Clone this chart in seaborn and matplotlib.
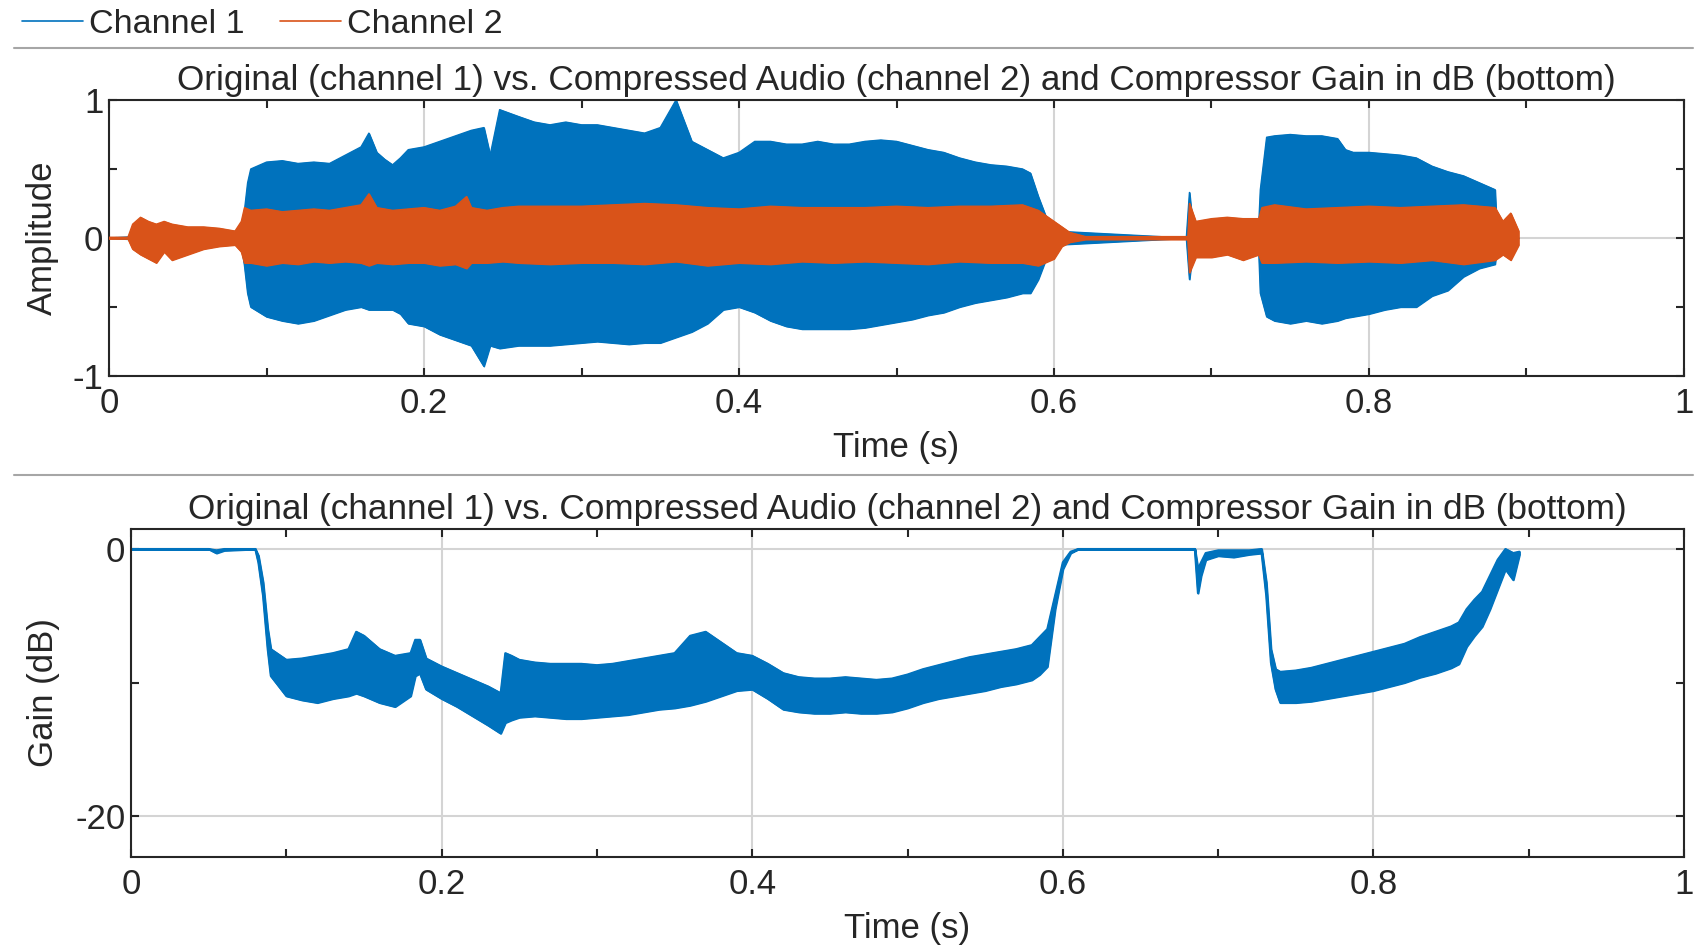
import numpy as np
import pandas as pd
import seaborn as sns
import matplotlib.pyplot as plt
from matplotlib.lines import Line2D

# channel 1 (original) envelope
ch1_t = [0.0, 0.084, 0.086, 0.088, 0.09, 0.10, 0.11, 0.12, 0.13, 0.14, 0.15, 0.16, 0.165, 0.17, 0.175,
         0.18, 0.185, 0.19, 0.20, 0.21, 0.22, 0.23, 0.238, 0.242, 0.248, 0.26, 0.27, 0.28, 0.29, 0.30,
         0.31, 0.32, 0.33, 0.34, 0.35, 0.355, 0.36, 0.365, 0.37, 0.38, 0.39, 0.40, 0.41, 0.42, 0.43,
         0.44, 0.45, 0.46, 0.47, 0.48, 0.49, 0.50, 0.51, 0.52, 0.53, 0.54, 0.55, 0.56, 0.57, 0.58,
         0.585, 0.59, 0.595, 0.60, 0.684, 0.686, 0.688, 0.73, 0.731, 0.735, 0.74, 0.75, 0.76, 0.77,
         0.78, 0.785, 0.79, 0.80, 0.81, 0.82, 0.83, 0.84, 0.85, 0.86, 0.87, 0.88, 0.881, 0.895]
ch1_hi = [0.0, 0.05, 0.20, 0.40, 0.50, 0.55, 0.56, 0.54, 0.55, 0.54, 0.60, 0.66, 0.76, 0.62, 0.57,
          0.53, 0.58, 0.64, 0.66, 0.70, 0.74, 0.78, 0.80, 0.60, 0.93, 0.88, 0.84, 0.82, 0.84, 0.82,
          0.82, 0.80, 0.78, 0.76, 0.80, 0.90, 1.00, 0.85, 0.70, 0.64, 0.58, 0.62, 0.70, 0.70, 0.68,
          0.68, 0.70, 0.68, 0.68, 0.70, 0.71, 0.70, 0.67, 0.64, 0.62, 0.58, 0.55, 0.53, 0.52, 0.50,
          0.47, 0.30, 0.15, 0.05, 0.0, 0.33, 0.10, 0.10, 0.35, 0.73, 0.74, 0.75, 0.74, 0.74,
          0.72, 0.64, 0.62, 0.62, 0.61, 0.60, 0.58, 0.52, 0.48, 0.45, 0.40, 0.35, 0.10, 0.0]
ch1_lo = [0.0, -0.05, -0.20, -0.40, -0.50, -0.57, -0.60, -0.62, -0.60, -0.56, -0.52, -0.50, -0.52, -0.52, -0.52,
          -0.52, -0.55, -0.62, -0.64, -0.70, -0.74, -0.78, -0.93, -0.78, -0.80, -0.78, -0.78, -0.78, -0.77, -0.76,
          -0.75, -0.76, -0.77, -0.76, -0.76, -0.74, -0.72, -0.70, -0.68, -0.62, -0.52, -0.50, -0.54, -0.60, -0.64,
          -0.66, -0.66, -0.66, -0.66, -0.65, -0.63, -0.61, -0.59, -0.56, -0.54, -0.50, -0.47, -0.45, -0.43, -0.40,
          -0.40, -0.30, -0.15, -0.05, 0.0, -0.30, -0.10, -0.10, -0.40, -0.57, -0.60, -0.62, -0.60, -0.62,
          -0.60, -0.58, -0.57, -0.55, -0.52, -0.50, -0.50, -0.42, -0.38, -0.28, -0.22, -0.19, -0.10, 0.0]

# channel 2 (compressed) envelope
ch2_t = [0.0, 0.012, 0.015, 0.02, 0.025, 0.03, 0.035, 0.04, 0.05, 0.06, 0.07, 0.08, 0.084, 0.086,
         0.09, 0.10, 0.11, 0.12, 0.13, 0.14, 0.15, 0.16, 0.165, 0.17, 0.18, 0.19, 0.20, 0.21, 0.22,
         0.227, 0.23, 0.24, 0.25, 0.26, 0.28, 0.30, 0.32, 0.34, 0.36, 0.38, 0.40, 0.42, 0.44, 0.46,
         0.48, 0.50, 0.52, 0.54, 0.56, 0.58, 0.59, 0.60, 0.605, 0.61, 0.62, 0.685, 0.686, 0.69, 0.70,
         0.71, 0.72, 0.73, 0.732, 0.74, 0.76, 0.78, 0.80, 0.82, 0.84, 0.86, 0.88, 0.885, 0.89, 0.895]
ch2_hi = [0.005, 0.005, 0.10, 0.15, 0.12, 0.10, 0.12, 0.10, 0.08, 0.08, 0.07, 0.05, 0.12, 0.22,
          0.20, 0.21, 0.19, 0.20, 0.21, 0.20, 0.22, 0.24, 0.32, 0.22, 0.20, 0.21, 0.22, 0.20, 0.23,
          0.30, 0.22, 0.20, 0.22, 0.23, 0.23, 0.23, 0.24, 0.25, 0.24, 0.22, 0.21, 0.23, 0.22, 0.22,
          0.22, 0.23, 0.22, 0.23, 0.23, 0.24, 0.20, 0.12, 0.08, 0.04, 0.01, 0.01, 0.25, 0.12, 0.14,
          0.15, 0.14, 0.14, 0.22, 0.24, 0.21, 0.22, 0.23, 0.22, 0.23, 0.24, 0.22, 0.12, 0.18, 0.05]
ch2_lo = [-0.005, -0.005, -0.08, -0.12, -0.15, -0.18, -0.10, -0.16, -0.12, -0.08, -0.06, -0.05, -0.10, -0.18,
          -0.18, -0.20, -0.18, -0.19, -0.17, -0.18, -0.17, -0.18, -0.20, -0.18, -0.19, -0.18, -0.18, -0.20, -0.19,
          -0.22, -0.18, -0.18, -0.17, -0.18, -0.19, -0.18, -0.18, -0.19, -0.17, -0.20, -0.18, -0.19, -0.17, -0.18,
          -0.17, -0.18, -0.19, -0.17, -0.18, -0.18, -0.20, -0.15, -0.06, -0.03, -0.01, -0.01, -0.25, -0.14, -0.14,
          -0.12, -0.16, -0.12, -0.18, -0.18, -0.17, -0.18, -0.17, -0.18, -0.16, -0.19, -0.16, -0.12, -0.16, -0.05]

# compressor gain in dB (band between local max and min)
gain_t = [0.0, 0.05, 0.055, 0.06, 0.08, 0.082, 0.085, 0.088, 0.09, 0.10, 0.11, 0.12, 0.13, 0.14,
          0.145, 0.15, 0.16, 0.17, 0.18, 0.183, 0.186, 0.19, 0.20, 0.21, 0.22, 0.23, 0.238, 0.241,
          0.245, 0.25, 0.26, 0.27, 0.28, 0.29, 0.30, 0.31, 0.32, 0.33, 0.34, 0.35, 0.36, 0.37, 0.38,
          0.39, 0.40, 0.41, 0.42, 0.43, 0.44, 0.45, 0.46, 0.47, 0.48, 0.49, 0.50, 0.51, 0.52, 0.53,
          0.54, 0.55, 0.56, 0.57, 0.58, 0.585, 0.59, 0.595, 0.60, 0.605, 0.61, 0.685, 0.687, 0.689,
          0.692, 0.70, 0.71, 0.72, 0.728, 0.731, 0.734, 0.737, 0.74, 0.75, 0.76, 0.77, 0.78, 0.79,
          0.80, 0.81, 0.82, 0.83, 0.84, 0.85, 0.855, 0.86, 0.865, 0.87, 0.875, 0.88, 0.885, 0.89, 0.894]
gain_hi = [0, 0, -0.1, 0, 0, -0.5, -2.5, -6.0, -7.5, -8.3, -8.2, -8.0, -7.8, -7.5,
           -6.2, -6.5, -7.5, -8.0, -7.8, -6.8, -6.8, -8.2, -8.8, -9.3, -9.8, -10.3, -10.8, -7.8,
           -8.0, -8.3, -8.5, -8.6, -8.6, -8.6, -8.7, -8.6, -8.4, -8.2, -8.0, -7.8, -6.5, -6.2, -7.0,
           -7.8, -8.0, -8.6, -9.3, -9.6, -9.7, -9.7, -9.6, -9.7, -9.8, -9.7, -9.4, -9.0, -8.7, -8.4,
           -8.1, -7.9, -7.7, -7.5, -7.2, -6.6, -6.0, -3.5, -1.0, -0.2, 0, 0, -1.5, -1.0,
           -0.3, -0.1, -0.1, -0.1, 0, -2.5, -7.5, -9.0, -9.2, -9.1, -8.9, -8.6, -8.3, -8.0,
           -7.7, -7.4, -7.1, -6.6, -6.2, -5.8, -5.5, -4.5, -3.8, -3.2, -2.0, -0.8, 0, -0.3, -0.2]
gain_lo = [0, 0, -0.3, -0.1, 0, -1.0, -3.5, -7.5, -9.5, -11.0, -11.3, -11.5, -11.2, -11.0,
           -10.8, -11.0, -11.5, -11.8, -11.0, -9.5, -9.3, -10.5, -11.2, -11.8, -12.5, -13.2, -13.8, -13.0,
           -12.8, -12.6, -12.5, -12.6, -12.7, -12.7, -12.6, -12.5, -12.4, -12.2, -12.0, -11.9, -11.7, -11.4, -11.0,
           -10.6, -10.5, -11.2, -12.0, -12.2, -12.3, -12.3, -12.2, -12.3, -12.3, -12.2, -11.9, -11.5, -11.2, -11.0,
           -10.8, -10.6, -10.3, -10.1, -9.8, -9.4, -8.8, -4.5, -1.5, -0.3, 0, 0, -3.3, -2.0,
           -0.8, -0.5, -0.6, -0.4, -0.3, -3.5, -8.5, -10.5, -11.5, -11.5, -11.4, -11.2, -11.0, -10.8,
           -10.6, -10.3, -10.0, -9.6, -9.3, -8.9, -8.6, -7.3, -6.5, -5.8, -4.5, -3.0, -1.5, -2.3, -0.4]

title_txt = 'Original (channel 1) vs. Compressed Audio (channel 2) and Compressor Gain in dB (bottom)'
blue = '#0072BD'
orange = '#D95319'

sns.set_style('ticks')
plt.rcParams['font.family'] = ['Liberation Sans', 'DejaVu Sans']
plt.rcParams['font.size'] = 25

fig = plt.figure(figsize=(17.06, 9.47), dpi=100)
ax1 = fig.add_axes([0.0639, 0.603, 0.9232, 0.2914])
ax2 = fig.add_axes([0.0768, 0.095, 0.9103, 0.3464])

# top: waveforms
ax1.fill_between(ch1_t, ch1_hi, ch1_lo, color=blue, lw=1, zorder=2)
ax1.fill_between(ch2_t, ch2_hi, ch2_lo, color=orange, lw=1, zorder=3)
sns.lineplot(x=ch1_t, y=ch1_hi, ax=ax1, color=blue, lw=1, zorder=2)
sns.lineplot(x=ch1_t, y=ch1_lo, ax=ax1, color=blue, lw=1, zorder=2)
sns.lineplot(x=ch2_t, y=ch2_hi, ax=ax1, color=orange, lw=1, zorder=3)
sns.lineplot(x=ch2_t, y=ch2_lo, ax=ax1, color=orange, lw=1, zorder=3)
ax1.set_xlim(0, 1)
ax1.set_ylim(-1, 1)
ax1.set_yticks([-1, 0, 1])
ax1.set_yticks([-0.5, 0.5], minor=True)
ax1.set_yticklabels(['-1', '0', '1'])
ax1.set_ylabel('Amplitude')
ax1.yaxis.set_label_coords(-0.032, 0.5)

# bottom: gain
ax2.fill_between(gain_t, gain_hi, gain_lo, color=blue, lw=1.5, zorder=2)
sns.lineplot(x=gain_t, y=gain_hi, ax=ax2, color=blue, lw=1.5, zorder=2)
sns.lineplot(x=gain_t, y=gain_lo, ax=ax2, color=blue, lw=1.5, zorder=2)
ax2.set_xlim(0, 1)
ax2.set_ylim(-23.07, 1.5)
ax2.set_yticks([-20, 0])
ax2.set_yticks([-10], minor=True)
ax2.set_yticklabels(['-20', '0'])
ax2.set_ylabel('Gain (dB)')
ax2.yaxis.set_label_coords(-0.046, 0.5)

for ax, ylab in [(ax1, -0.199), (ax2, -0.168)]:
    ax.set_xticks([0, 0.2, 0.4, 0.6, 0.8, 1])
    ax.set_xticks([0.1, 0.3, 0.5, 0.7, 0.9], minor=True)
    ax.set_xticklabels(['0', '0.2', '0.4', '0.6', '0.8', '1'])
    ax.set_xlabel('Time (s)')
    ax.xaxis.set_label_coords(0.5, ylab)
    ax.set_title(title_txt, fontsize=25.3, pad=7)
    ax.grid(True, which='major', color='#d4d4d4', lw=1.5)
    ax.set_axisbelow(True)
    ax.tick_params(which='both', direction='in', top=True, right=True, length=6, width=1.5,
                   color='#262626', labelsize=25)
    ax.tick_params(axis='x', pad=8)
    ax.tick_params(axis='y', pad=4)
    for sp in ax.spines.values():
        sp.set_visible(True)
        sp.set_color('#262626')
        sp.set_linewidth(1.5)

# legend strip with separators
handles = [Line2D([], [], color=blue, lw=1.2), Line2D([], [], color=orange, lw=1.2)]
fig.legend(handles, ['Channel 1', 'Channel 2'], loc='upper left', bbox_to_anchor=(0.011, 0.9937),
           ncol=2, frameon=False, fontsize=24.5, handlelength=1.8, handletextpad=0.17,
           columnspacing=1.04, borderpad=0.1, borderaxespad=0)
for yy in [48, 475]:
    fig.add_artist(Line2D([14 / 1706, 1693 / 1706], [1 - yy / 947] * 2, transform=fig.transFigure,
                          color='#a6a6a6', lw=1.5))

fig.savefig('out.png', dpi=100)
